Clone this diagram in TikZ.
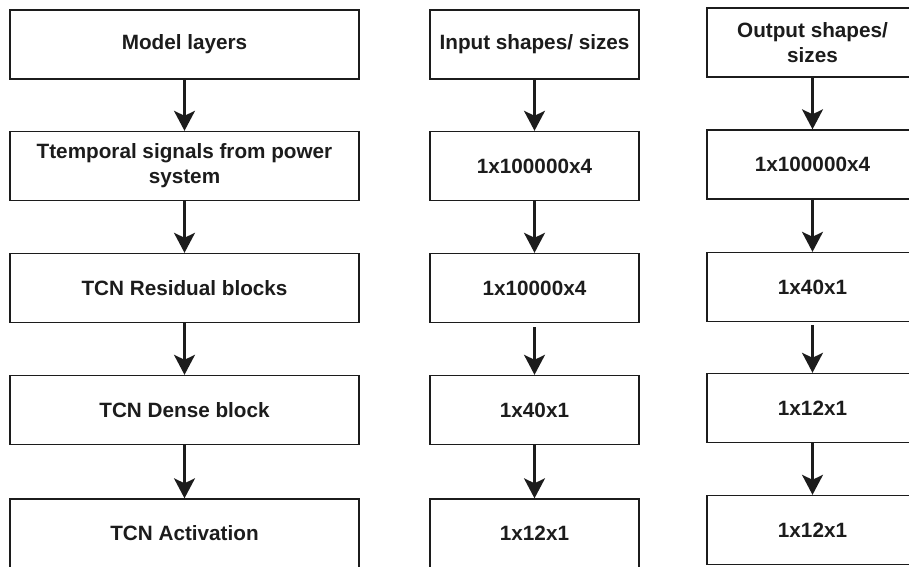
\documentclass[tikz,border=0pt]{standalone}
\usepackage{fontspec}
\setmainfont{Liberation Sans}
\usetikzlibrary{arrows.meta}
\definecolor{ink}{HTML}{1C1C1C}
\tikzset{
  stagebox/.style={draw=ink, line width=1.4pt, rectangle, inner sep=2pt,
    text=ink, align=center, font=\bfseries\fontsize{20.7}{25}\selectfont},
  leftcol/.style={stagebox, minimum width=349pt, minimum height=69pt},
  midcol/.style={stagebox, minimum width=209pt, minimum height=69pt},
  rightcol/.style={stagebox, minimum width=211pt, minimum height=69pt},
  flow/.style={draw=ink, line width=2.3pt,
    -{Stealth[length=20pt, width=21pt, inset=5pt]}}
}
\begin{document}
\begin{tikzpicture}[x=1pt, y=-1pt]
  \useasboundingbox (0,0) rectangle (909,566);
  \clip (0,0) rectangle (909,566);
  \fill[white] (0,0) rectangle (909,566);

  % model layers
  \node[leftcol] (l1) at (184.5,44.5)  {Model layers};
  \node[leftcol] (l2) at (184.5,166)   {Ttemporal signals from power\\system};
  \node[leftcol] (l3) at (184.5,288)   {TCN Residual blocks};
  \node[leftcol] (l4) at (184.5,410)   {TCN Dense block};
  \node[leftcol] (l5) at (184.5,533.5) {TCN Activation};

  % input shapes
  \node[midcol] (m1) at (534.5,44.5)  {Input shapes/ sizes};
  \node[midcol] (m2) at (534.5,166)   {1x100000x4};
  \node[midcol] (m3) at (534.5,288)   {1x10000x4};
  \node[midcol] (m4) at (534.5,410)   {1x40x1};
  \node[midcol] (m5) at (534.5,533.5) {1x12x1};

  % output shapes
  \node[rightcol] (r1) at (812.5,42.5)  {Output shapes/\\sizes};
  \node[rightcol] (r2) at (812.5,164.5) {1x100000x4};
  \node[rightcol] (r3) at (812.5,287)   {1x40x1};
  \node[rightcol] (r4) at (812.5,408)   {1x12x1};
  \node[rightcol] (r5) at (812.5,530)   {1x12x1};

  % connectors
  \draw[flow] (l1.south) -- (l2.north);
  \draw[flow] (l2.south) -- (l3.north);
  \draw[flow] (l3.south) -- (l4.north);
  \draw[flow] (l4.south) -- (l5.north);

  \draw[flow] (m1.south) -- (m2.north);
  \draw[flow] (m2.south) -- (m3.north);
  \draw[flow] ([yshift=-4pt]m3.south) -- (m4.north);
  \draw[flow] (m4.south) -- (m5.north);

  \draw[flow] (r1.south) -- (r2.north);
  \draw[flow] (r2.south) -- (r3.north);
  \draw[flow] ([yshift=-3pt]r3.south) -- (r4.north);
  \draw[flow] (r4.south) -- (r5.north);
\end{tikzpicture}
\end{document}
